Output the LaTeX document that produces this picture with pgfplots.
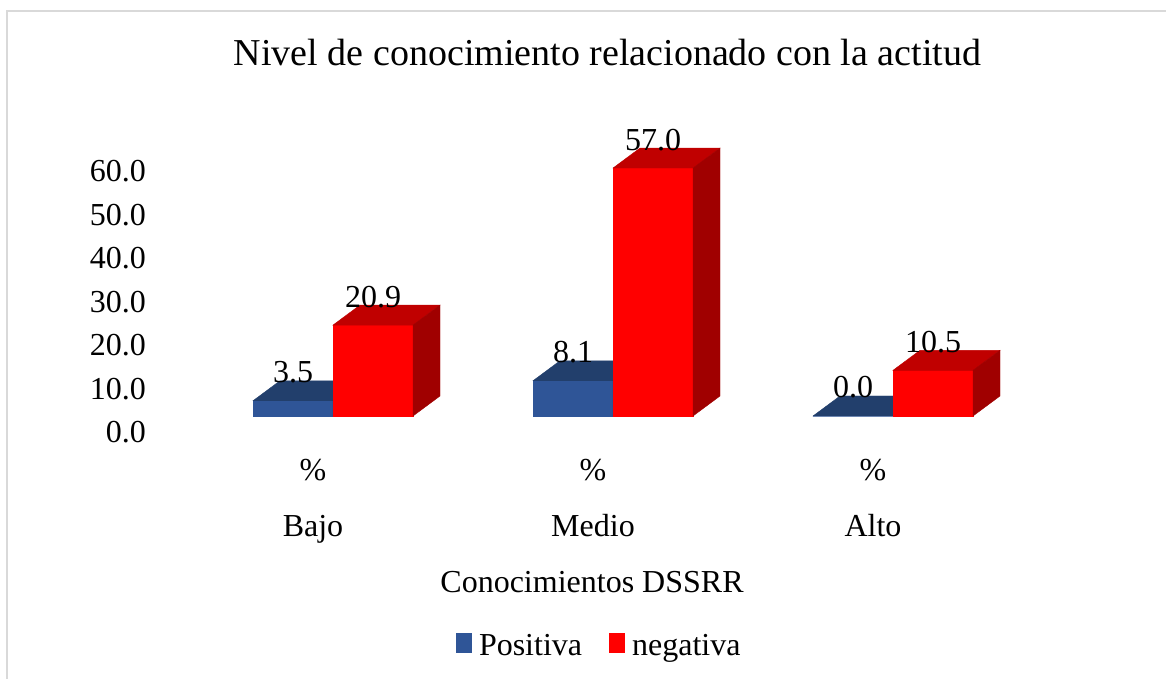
\documentclass[border=0pt]{standalone}
\usepackage{fontspec}
\setmainfont{Liberation Serif}
\usepackage{pgfplots}
\pgfplotsset{compat=1.18}
\usepackage{pgfplotstable}
\definecolor{bfront}{HTML}{2F5597}
\definecolor{btop}{HTML}{223F6C}
\definecolor{bside}{HTML}{1F3864}
\definecolor{rfront}{HTML}{FF0000}
\definecolor{rtop}{HTML}{C00000}
\definecolor{rside}{HTML}{A00000}
\definecolor{framegray}{HTML}{D9D9D9}
\newcommand\fs{\fontsize{32bp}{38bp}\selectfont}
\pgfdeclareplotmark{nomark}{}
\pgfplotstableread{
x v
0 3.5
1 8.1
2 0.0
}\positiva
\pgfplotstableread{
x v
0 20.9
1 57.0
2 10.5
}\negativa
\pgfplotsset{
  box3d/.style n args={4}{%
    scatter, only marks, mark=nomark, forget plot,
    visualization depends on={\thisrow{v} \as \val},
    scatter/@pre marker code/.code={%
      \begin{scope}
      \fill[#4] ({#1},0bp) -- ++(80bp,0bp) -- ++(axis direction cs:0,-\val) -- ++(-80bp,0bp) -- cycle;
      \fill[#2] ({#1},0bp) -- ++(27bp,20bp) -- ++(80bp,0bp) -- ++(-27bp,-20bp) -- cycle;
      \fill[#3] ({#1+80bp},0bp) -- ++(27bp,20bp) -- ++(axis direction cs:0,-\val) -- ++(-27bp,-20bp) -- cycle;
      \node[anchor=base, inner sep=0pt, font=\fs] at ({#1+40bp},18bp) {\pgfmathprintnumber{\val}};
      \end{scope}
    },
    scatter/@post marker code/.code={},
  },
}
\begin{document}
\begin{tikzpicture}
\path[use as bounding box] (0,0) rectangle (1166bp,679bp);
\draw[framegray, line width=2.5bp] (7bp,-5bp) -- (7bp,668bp) -- (1175bp,668bp);
\begin{axis}[
  at={(193bp,263bp)}, anchor=south west,
  scale only axis, width=840bp, height=282.75bp,
  xmin=-0.5, xmax=2.5, ymin=0, ymax=65,
  axis line style={draw=none}, tick style={draw=none},
  clip=false,
  /pgf/number format/fixed, /pgf/number format/fixed zerofill,
  /pgf/number format/precision=1, /pgf/number format/assume math mode=true,
  ytick={0,10,...,60},
  yticklabel style={anchor=base east, inner sep=0pt, xshift=-47bp, yshift=-27bp, font=\fs},
  xtick={0,1,2}, xticklabels={\%,\%,\%},
  xticklabel style={anchor=base, inner sep=0pt, xshift=-20bp, yshift=-64bp, font=\fs},
  extra x ticks={0,1,2}, extra x tick labels={Bajo,Medio,Alto},
  extra x tick style={xticklabel style={yshift=-56bp}},
  title={Nivel de conocimiento relacionado con la actitud},
  title style={at={(axis description cs:0.49345,1.2177)}, anchor=base, inner sep=0pt, font=\fontsize{38bp}{44bp}\selectfont},
  xlabel={Conocimientos DSSRR},
  xlabel style={at={(axis description cs:0.475,-0.6225)}, anchor=base, inner sep=0pt, font=\fs},
  legend columns=2,
  legend style={at={(axis description cs:0.3131,-0.7675)}, anchor=north west, draw=none, fill=none,
    inner sep=0pt, outer sep=0pt, font=\fs, nodes={inner sep=0pt, anchor=base},
    /tikz/every odd column/.style={column sep=7bp},
    /tikz/every even column/.style={column sep=27bp}},
  legend image code/.code={\fill[#1] (0bp,2.5bp) rectangle (16bp,22bp);},
]
\addplot[ybar, bar width=80bp, bar shift=-40bp, fill=bfront, draw=none] table[x=x,y=v]{\positiva};
\addlegendentry{Positiva}
\addplot[ybar, bar width=80bp, bar shift=40bp, fill=rfront, draw=none] table[x=x,y=v]{\negativa};
\addlegendentry{negativa}
\addplot[box3d={-80bp}{btop}{bside}{bfront}] table[x=x,y=v]{\positiva};
\addplot[box3d={0bp}{rtop}{rside}{rfront}] table[x=x,y=v]{\negativa};
\end{axis}
\end{tikzpicture}
\end{document}
